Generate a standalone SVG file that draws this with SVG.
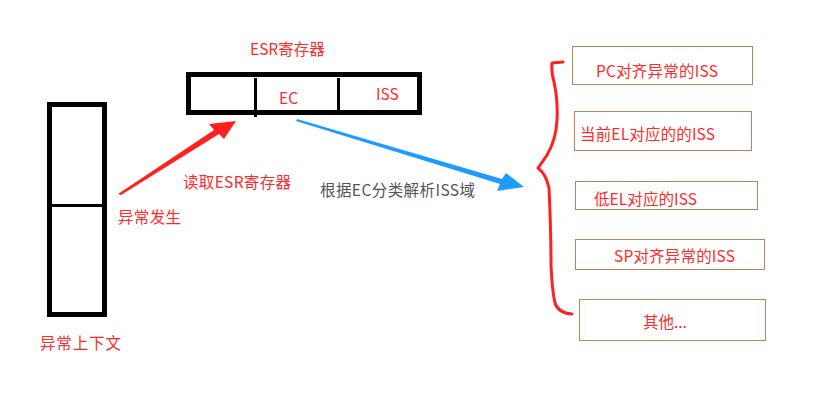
<svg xmlns="http://www.w3.org/2000/svg" width="817" height="413" viewBox="0 0 817 413">
<style>
.t{font-family:"Noto Sans CJK SC","Noto Sans",sans-serif;font-size:15.5px;fill:#ff2a2a}
.g{fill:#555555}
.blk{fill:none;stroke:#000;stroke-width:5}
.box{fill:#fff;stroke:#c0805a;stroke-width:1}
</style>
<rect width="817" height="413" fill="#fff"/>
<g id="esr">
<rect class="blk" x="188.5" y="74.5" width="231" height="38"/>
<line x1="255.5" y1="78" x2="255.5" y2="117" stroke="#000" stroke-width="3"/>
<line x1="338.5" y1="78" x2="338.5" y2="112" stroke="#000" stroke-width="3"/>
<text class="t" x="250" y="55">ESR寄存器</text>
<text class="t" x="279" y="104">EC</text>
<text class="t" x="376" y="100">ISS</text>
</g>
<g id="context">
<rect class="blk" x="49.5" y="104.5" width="55" height="210"/>
<line x1="49" y1="205.5" x2="105" y2="205.5" stroke="#000" stroke-width="3"/>
<text class="t" x="40" y="349" textLength="81">异常上下文</text>
</g>
<g id="labels">
<text class="t" x="118" y="223" textLength="63">异常发生</text>
<text class="t" x="183" y="188" textLength="108">读取ESR寄存器</text>
<text class="t g" x="320" y="196" textLength="155">根据EC分类解析ISS域</text>
</g>
<g id="connectors">
<polygon points="118,194 214,130 209,124 236,121 224,139 219,134 121,195" fill="#ff2020"/>
<polygon points="297,119 502,179 506,173 524,187 497,191 500,184 296,121" fill="#1e9bff"/>
<path d="M563,62 L552,63 Q551,72 554,82 Q558,100 557,120 Q556,140 547,155 Q541,164 538,168 Q546,174 549,188 Q551,230 551,265 Q552,290 555,303 Q558,313 572,314" fill="none" stroke="#ff2020" stroke-width="3" stroke-linecap="round" stroke-linejoin="round"/>
</g>
<g id="iss1"><rect class="box" x="572.5" y="46.5" width="180" height="38"/><text class="t" x="596" y="77" textLength="122">PC对齐异常的ISS</text></g>
<g id="iss2"><rect class="box" x="574.5" y="111.5" width="177" height="39"/><text class="t" x="580" y="140" textLength="135">当前EL对应的的ISS</text></g>
<g id="iss3"><rect class="box" x="575.5" y="181.5" width="182" height="28"/><text class="t" x="594" y="205" textLength="103">低EL对应的ISS</text></g>
<g id="iss4"><rect class="box" x="575.5" y="239.5" width="189" height="30"/><text class="t" x="614" y="262" textLength="121">SP对齐异常的ISS</text></g>
<g id="iss5"><rect class="box" x="579.5" y="299.5" width="186" height="41"/><text class="t" x="643" y="328">其他...</text></g>
</svg>
